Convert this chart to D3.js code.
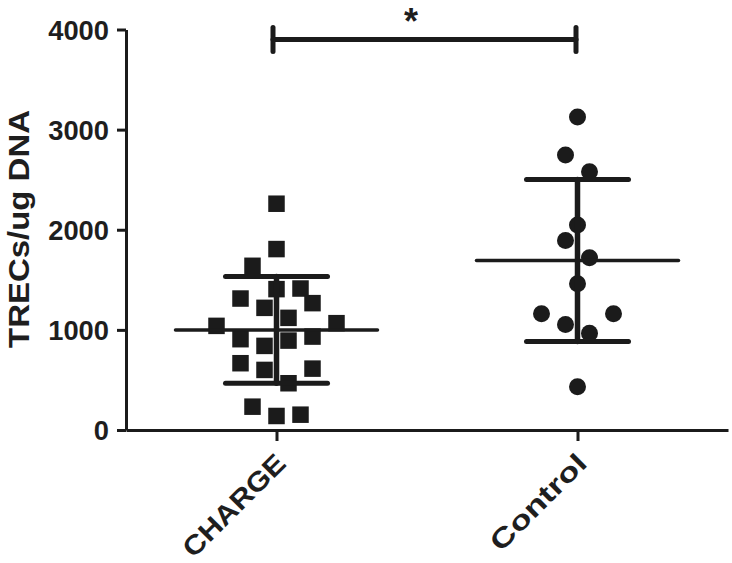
<!DOCTYPE html>
<html>
<head>
<meta charset="utf-8">
<script src="https://cdn.jsdelivr.net/npm/d3@7"></script>
<style>
  html, body { margin: 0; padding: 0; background: #fff; }
  svg { display: block; }
  text { font-family: "Liberation Sans", Arial, sans-serif; font-weight: bold; fill: #1e1e1e; }
</style>
</head>
<body>
<div id="chart"></div>
<script>
// Data
const groups = ["CHARGE", "Control"];

const chargeValues = [2260, 1807, 1640, 1407, 1413, 1313, 1267, 1220, 1120, 1040, 1067,
  907, 933, 840, 893, 667, 600, 613, 467, 233, 140, 153];
// column slot of each point in the scatter (beeswarm-like jitter)
const chargeSlots = [0, 0, -2, 0, 2, -3, 3, -1, 1, -5, 5, -3, 3, -1, 1, -3, -1, 3, 1, -2, 0, 2];

const controlValues = [3127, 2747, 2580, 2047, 1893, 1720, 1460, 1160, 1160, 1053, 967, 433];
const controlSlots = [0, -1, 1, 0, -1, 1, 0, -3, 3, -1, 1, 0];

// mean and SD as drawn
const groupMeans = [1000, 1693];
const groupSD = [533, 810];

const yTicks = [0, 1000, 2000, 3000, 4000];
const yLabel = "TRECs/ug DNA";
const sigLabel = "*";

// Configuration
const width = 732;
const height = 563;
const ink = "#1b1b1b";

const svg = d3.select("#chart")
  .append("svg")
  .attr("width", width)
  .attr("height", height);

const x = d3.scalePoint()
  .domain(groups)
  .range([126, 728])
  .padding(0.5);

const y = d3.scaleLinear()
  .domain([0, 4000])
  .range([430, 29.5]);

const slot = d3.scaleLinear().domain([0, 1]).range([0, 12]);

// Axes
const yAxis = d3.axisLeft(y).tickValues(yTicks).tickFormat(d3.format("d"))
  .tickSize(9).tickPadding(8).tickSizeOuter(0);
const xAxis = d3.axisBottom(x).tickSize(11).tickSizeOuter(0).tickFormat("");

const yAxisGroup = svg.append("g")
  .attr("class", "y-axis")
  .attr("transform", "translate(126,0)")
  .call(yAxis);

const xAxisGroup = svg.append("g")
  .attr("class", "x-axis")
  .attr("transform", "translate(0,430)")
  .call(xAxis);

svg.selectAll(".x-axis path, .y-axis path, .x-axis line, .y-axis line")
  .attr("stroke", ink)
  .attr("stroke-width", 3);

yAxisGroup.selectAll("text")
  .attr("font-size", "27px")
  .attr("font-family", "Liberation Sans, Arial, sans-serif")
  .attr("font-weight", "bold")
  .attr("fill", "#1e1e1e")
  .attr("dy", "0.36em")
  .attr("textLength", d => String(d).length * 15.2)
  .attr("lengthAdjust", "spacingAndGlyphs");

// rotated category labels
svg.append("g")
  .selectAll("text")
  .data(groups)
  .join("text")
  .attr("transform", d => `translate(${x(d) + 11},${465}) rotate(-45)`)
  .attr("text-anchor", "end")
  .attr("font-size", "27px")
  .attr("textLength", d => d.length === 6 ? 133 : 124)
  .attr("lengthAdjust", "spacingAndGlyphs")
  .text(d => d);

// y axis title
svg.append("text")
  .attr("transform", `translate(29,229) rotate(-90)`)
  .attr("text-anchor", "middle")
  .attr("font-size", "29px")
  .attr("textLength", 238)
  .attr("lengthAdjust", "spacingAndGlyphs")
  .text(yLabel);

// Points
const chargeData = chargeValues.map((v, i) => ({ v, s: chargeSlots[i] }));
const controlData = controlValues.map((v, i) => ({ v, s: controlSlots[i] }));

const sq = 16.5;
svg.append("g")
  .selectAll("rect")
  .data(chargeData)
  .join("rect")
  .attr("x", d => x("CHARGE") + slot(d.s) - sq / 2)
  .attr("y", d => y(d.v) - sq / 2)
  .attr("width", sq)
  .attr("height", sq)
  .attr("fill", ink);

svg.append("g")
  .selectAll("circle")
  .data(controlData)
  .join("circle")
  .attr("cx", d => x("Control") + slot(d.s))
  .attr("cy", d => y(d.v))
  .attr("r", 8.5)
  .attr("fill", ink);

// Mean and SD bars
const stats = groups.map((g, i) => ({ g, mean: groupMeans[i], sd: groupSD[i] }));
const bars = svg.append("g").attr("stroke", ink).attr("stroke-linecap", "round");

bars.selectAll(".mean")
  .data(stats)
  .join("line")
  .attr("class", "mean")
  .attr("x1", d => x(d.g) - 101)
  .attr("x2", d => x(d.g) + 101)
  .attr("y1", d => y(d.mean))
  .attr("y2", d => y(d.mean))
  .attr("stroke-width", 3.5);

bars.selectAll(".sdv")
  .data(stats)
  .join("line")
  .attr("class", "sdv")
  .attr("x1", d => x(d.g))
  .attr("x2", d => x(d.g))
  .attr("y1", d => y(d.mean - d.sd))
  .attr("y2", d => y(d.mean + d.sd))
  .attr("stroke-width", 5.5);

stats.forEach(d => {
  [d.mean - d.sd, d.mean + d.sd].forEach(v => {
    bars.append("line")
      .attr("x1", x(d.g) - 51)
      .attr("x2", x(d.g) + 51)
      .attr("y1", y(v))
      .attr("y2", y(v))
      .attr("stroke-width", 5);
  });
});

// Significance bracket
const bracket = svg.append("g").attr("stroke", ink).attr("stroke-width", 5).attr("stroke-linecap", "round");
const bx1 = x("CHARGE") - 3.5, bx2 = x("Control") - 1.5, by = 39.5;
bracket.append("line").attr("x1", bx1).attr("x2", bx2).attr("y1", by).attr("y2", by);
bracket.append("line").attr("x1", bx1).attr("x2", bx1).attr("y1", by - 12).attr("y2", by + 12);
bracket.append("line").attr("x1", bx2).attr("x2", bx2).attr("y1", by - 12).attr("y2", by + 12);

svg.append("text")
  .attr("x", 411)
  .attr("y", 34)
  .attr("text-anchor", "middle")
  .attr("font-size", "36px")
  .text(sigLabel);
</script>
</body>
</html>
